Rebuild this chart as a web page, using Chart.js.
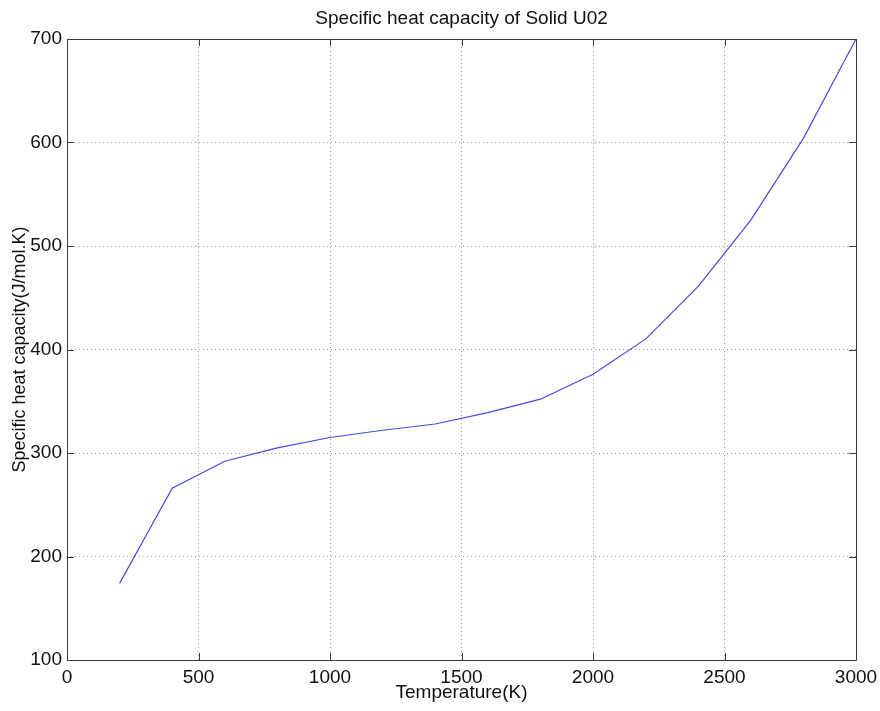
<!DOCTYPE html>
<html>
<head>
<meta charset="utf-8">
<title>Specific heat capacity of Solid U02</title>
<script src="https://cdn.jsdelivr.net/npm/chart.js@4.4.1/dist/chart.umd.min.js"></script>
<style>
  html, body { margin: 0; padding: 0; background: #fff; }
  #wrap { width: 880px; height: 711px; }
</style>
</head>
<body>
<div id="wrap"><canvas id="cpChart" width="880" height="711"></canvas></div>
<script>
'use strict';

// Temperatures (K) and specific heat capacity (J/mol.K)
var temperatures = [200, 400, 600, 800, 1000, 1200, 1400, 1600, 1800, 2000, 2200, 2400, 2600, 2800, 3000];
var heatCapacity = [174, 266, 292, 305, 315, 322, 328, 339, 352, 376, 410, 461, 525, 604, 700];

var xTickValues = [0, 500, 1000, 1500, 2000, 2500, 3000];
var yTickValues = [100, 200, 300, 400, 500, 600, 700];

var chartTitle = 'Specific heat capacity of Solid U02';
var FONT = 'Liberation Sans, Arial, Helvetica, sans-serif';

// Cadre façon MATLAB, petites graduations vers l'intérieur, titre centré sur la zone de tracé
var boxPlugin = {
  id: 'matlabBox',
  afterDraw: function (chart) {
    var ctx = chart.ctx;
    var area = chart.chartArea;
    var xs = chart.scales.x;
    var ys = chart.scales.y;
    var len = 7;

    ctx.save();
    ctx.strokeStyle = '#3c3c3c';
    ctx.lineWidth = 1;
    ctx.beginPath();
    ctx.rect(Math.round(area.left) + 0.5, Math.round(area.top) + 0.5,
      Math.round(area.right - area.left), Math.round(area.bottom - area.top));

    xTickValues.forEach(function (v) {
      var px = Math.round(xs.getPixelForValue(v)) + 0.5;
      ctx.moveTo(px, area.bottom);
      ctx.lineTo(px, area.bottom - len);
      ctx.moveTo(px, area.top);
      ctx.lineTo(px, area.top + len);
    });
    yTickValues.forEach(function (v) {
      var py = Math.round(ys.getPixelForValue(v)) + 0.5;
      ctx.moveTo(area.left, py);
      ctx.lineTo(area.left + len, py);
      ctx.moveTo(area.right, py);
      ctx.lineTo(area.right - len, py);
    });
    ctx.stroke();

    ctx.fillStyle = '#111';
    ctx.font = '19px ' + FONT;
    ctx.textAlign = 'center';
    ctx.textBaseline = 'middle';
    ctx.fillText(chartTitle, (area.left + area.right) / 2, 19);
    ctx.restore();
  }
};

var points = temperatures.map(function (t, i) {
  return { x: t, y: heatCapacity[i] };
});

new Chart(document.getElementById('cpChart').getContext('2d'), {
  type: 'line',
  data: {
    datasets: [{
      label: 'Cp',
      data: points,
      borderColor: 'rgb(72, 72, 228)',
      borderWidth: 1.2,
      pointRadius: 0,
      tension: 0,
      fill: false
    }]
  },
  options: {
    animation: false,
    responsive: false,
    layout: {
      padding: { top: 39, left: 0, right: 24, bottom: 0 }
    },
    scales: {
      x: {
        type: 'linear',
        min: 0,
        max: 3000,
        afterBuildTicks: function (scale) {
          scale.ticks = xTickValues.map(function (v) { return { value: v }; });
        },
        afterFit: function (scale) {
          scale.height = 51;
          scale.paddingLeft = 0;
          scale.paddingRight = 0;
        },
        grid: {
          color: '#a0a0a0',
          lineWidth: 1,
          drawTicks: false
        },
        border: { display: false, dash: [1, 3] },
        ticks: {
          color: '#111',
          padding: 6,
          maxRotation: 0,
          font: { family: FONT, size: 19 },
          callback: function (v) { return String(v); }
        },
        title: {
          display: true,
          text: 'Temperature(K)',
          color: '#111',
          padding: { top: 0, bottom: 7 },
          font: { family: FONT, size: 19 }
        }
      },
      y: {
        type: 'linear',
        min: 100,
        max: 700,
        afterBuildTicks: function (scale) {
          scale.ticks = yTickValues.map(function (v) { return { value: v }; });
        },
        afterFit: function (scale) {
          scale.width = 67;
        },
        grid: {
          color: '#a0a0a0',
          lineWidth: 1,
          drawTicks: false
        },
        border: { display: false, dash: [1, 3] },
        ticks: {
          color: '#111',
          padding: 5,
          font: { family: FONT, size: 19 },
          callback: function (v) { return String(v); }
        },
        title: {
          display: true,
          text: 'Specific heat capacity(J/mol.K)',
          color: '#111',
          padding: { top: 9, bottom: 0 },
          font: { family: FONT, size: 18 }
        }
      }
    },
    plugins: {
      legend: { display: false },
      tooltip: { enabled: false },
      title: { display: false }
    }
  },
  plugins: [boxPlugin]
});
</script>
</body>
</html>
